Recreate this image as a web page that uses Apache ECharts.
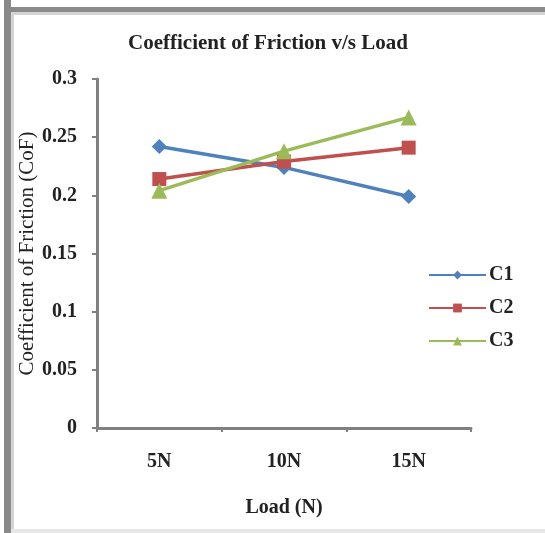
<!DOCTYPE html>
<html><head><meta charset="utf-8">
<script src="https://cdn.jsdelivr.net/npm/echarts@6/dist/echarts.min.js"></script>
<style>html,body{margin:0;padding:0;background:#fff}#c{width:545px;height:533px}</style>
</head><body><div id="c"></div>
<script>
const categories = ['5N', '10N', '15N'];
const c1 = [0.242, 0.224, 0.199];
const c2 = [0.214, 0.229, 0.241];
const c3 = [0.204, 0.238, 0.267];
const seriesNames = ['C1', 'C2', 'C3'];
const yTicks = { min: 0, max: 0.3, interval: 0.05 };

const font = 'Liberation Serif, Times New Roman, serif';
const chart = echarts.init(document.getElementById('c'));
chart.setOption({
  animation: false,
  backgroundColor: '#fff',
  title: {
    text: 'Coefficient of Friction v/s Load',
    left: 268, top: 33, textAlign: 'center', padding: 0,
    textStyle: { fontFamily: font, fontWeight: 'bold', fontSize: 21, color: '#222' }
  },
  grid: { left: 97, top: 79, right: 74, bottom: 105, containLabel: false },
  legend: {
    orient: 'vertical', left: 423, top: 260, itemGap: 13,
    itemWidth: 57, itemHeight: 11,
    data: seriesNames,
    textStyle: { fontFamily: font, fontWeight: 'bold', fontSize: 20, color: '#222', padding: [0,0,0,-2] }
  },
  xAxis: {
    type: 'category', data: categories, boundaryGap: true,
    name: 'Load (N)', nameLocation: 'middle', nameGap: 70, nameMoveOverlap: false,
    nameTextStyle: { fontFamily: font, fontWeight: 'bold', fontSize: 20, color: '#222' },
    axisLine: { lineStyle: { color: '#808080', width: 3 } },
    axisTick: { show: true, length: 4, lineStyle: { color: '#808080', width: 2 } },
    axisLabel: { fontFamily: font, fontWeight: 'bold', fontSize: 20, color: '#222', margin: 24 },
    splitLine: { show: false }
  },
  yAxis: {
    type: 'value', min: yTicks.min, max: yTicks.max, interval: yTicks.interval,
    name: 'Coefficient of Friction (CoF)', nameLocation: 'middle', nameGap: 59, nameRotate: 90,
    nameMoveOverlap: false,
    nameTextStyle: { fontFamily: font, fontSize: 21, color: '#222' },
    axisLine: { show: true, lineStyle: { color: '#808080', width: 3 } },
    axisTick: { show: true, length: 5, lineStyle: { color: '#808080', width: 2 } },
    axisLabel: { fontFamily: font, fontWeight: 'bold', fontSize: 20, color: '#222', margin: 20 },
    splitLine: { show: false }
  },
  series: [
    { name: 'C1', type: 'line', data: c1, symbol: 'diamond', symbolSize: 15,
      itemStyle: { color: '#4F81BD' }, lineStyle: { color: '#4F81BD', width: 3.5 } },
    { name: 'C2', type: 'line', data: c2, symbol: 'rect', symbolSize: 14,
      itemStyle: { color: '#C0504D' }, lineStyle: { color: '#C0504D', width: 3.5 } },
    { name: 'C3', type: 'line', data: c3, symbol: 'triangle', symbolSize: 16,
      itemStyle: { color: '#9BBB59' }, lineStyle: { color: '#9BBB59', width: 3.5 } }
  ],
  graphic: [
    { type: 'rect', shape: { x: 4, y: 0, width: 7, height: 533 }, style: { fill: '#8a8a8a' } },
    { type: 'rect', shape: { x: 4, y: 7, width: 541, height: 5 }, style: { fill: '#8a8a8a' } },
    { type: 'rect', shape: { x: 11, y: 12, width: 3, height: 521 }, style: { fill: '#d4d4d4' } },
    { type: 'rect', shape: { x: 11, y: 12, width: 534, height: 3 }, style: { fill: '#d4d4d4' } },
    { type: 'rect', shape: { x: 11, y: 529, width: 534, height: 4 }, style: { fill: '#e6e6e6' } }
  ]
});
</script></body></html>
